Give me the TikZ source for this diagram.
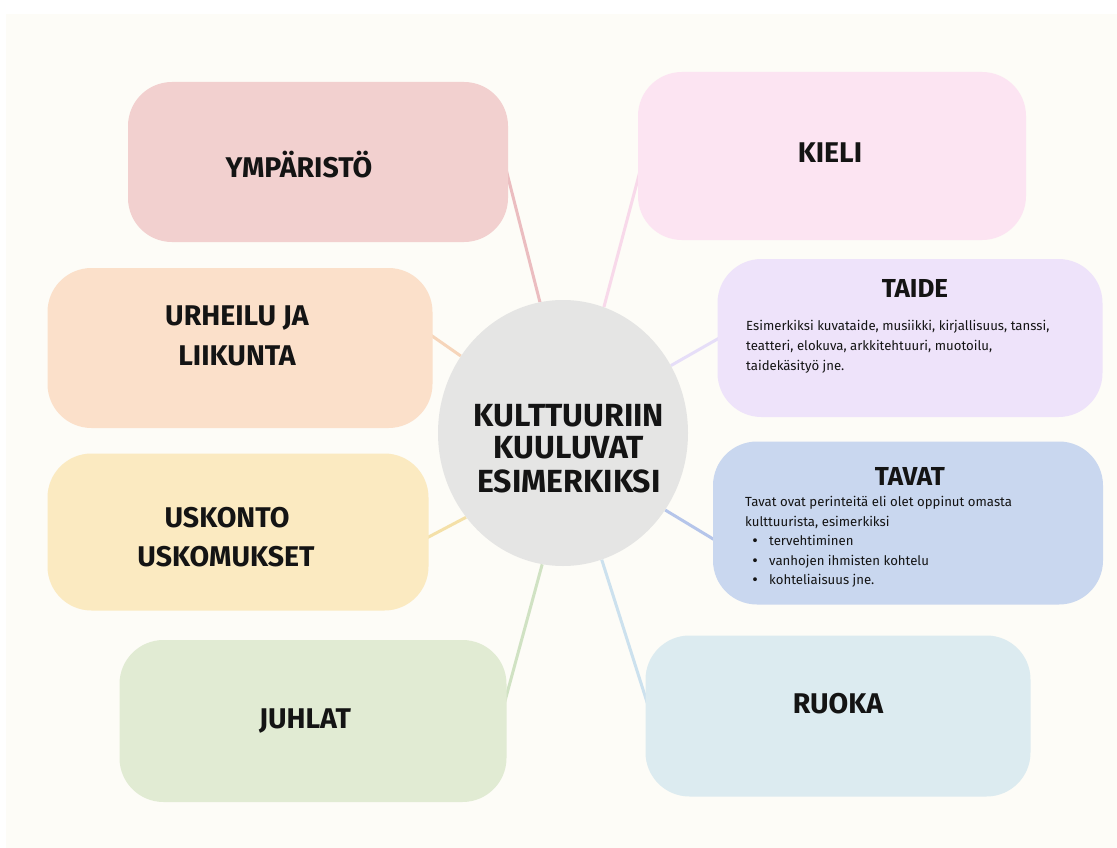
\documentclass[tikz,border=0pt]{standalone}
\usepackage{fontspec}
\setmainfont{Fira Sans}
\usetikzlibrary{shapes.geometric,backgrounds,calc}
\definecolor{cream}{HTML}{FDFCF7}
\definecolor{ink}{HTML}{141414}
\definecolor{cYmp}{HTML}{F2D0CF}
\definecolor{cKieli}{HTML}{FCE4F2}
\definecolor{cUrh}{HTML}{FBE0CA}
\definecolor{cTaide}{HTML}{EEE3FA}
\definecolor{cUsk}{HTML}{FBEAC1}
\definecolor{cTavat}{HTML}{C9D7EF}
\definecolor{cJuh}{HTML}{E1EBD3}
\definecolor{cRuo}{HTML}{DCEBF0}
\definecolor{cCirc}{HTML}{E5E5E4}
\definecolor{lYmp}{HTML}{EBBDC0}
\definecolor{lKieli}{HTML}{F8D9EA}
\definecolor{lUrh}{HTML}{F6D5BA}
\definecolor{lTaide}{HTML}{E6DEF8}
\definecolor{lUsk}{HTML}{F4E0A8}
\definecolor{lTavat}{HTML}{B5C5EA}
\definecolor{lJuh}{HTML}{D0E2C3}
\definecolor{lRuo}{HTML}{CCE1EE}
\begin{document}
\begin{tikzpicture}[x=1pt,y=-1pt,
  box/.style={rectangle, rounded corners=44pt, draw=none, inner sep=0pt},
  title/.style={font=\fontsize{28.5}{30}\selectfont\bfseries, text=ink, anchor=base, inner sep=0pt},
  subtitle/.style={font=\fontsize{26}{28}\selectfont\bfseries, text=ink, anchor=base, inner sep=0pt},
  ctext/.style={font=\fontsize{32}{34}\selectfont\bfseries, text=ink, anchor=base, inner sep=0pt},
  body/.style={font=\fontsize{13.2}{15}\selectfont, text=ink, anchor=base west, inner sep=0pt},
  dot/.style={font=\fontsize{17}{17}\selectfont, text=ink, anchor=base, inner sep=0pt},
  link/.style={line width=3pt}]
\useasboundingbox (0,0) rectangle (1117,848);

% boxes
\node[box, fill=cYmp, minimum width=380pt, minimum height=160pt] (ymp) at (318,162) {};
\node[box, fill=cKieli, minimum width=388pt, minimum height=168pt] (kieli) at (832,156) {};
\node[box, fill=cUrh, minimum width=385pt, minimum height=160pt] (urh) at (240,348) {};
\node[box, fill=cTaide, minimum width=385pt, minimum height=158pt] (taide) at (910,338) {};
\node[box, fill=cUsk, minimum width=381pt, minimum height=157pt] (usk) at (238,532) {};
\node[box, fill=cTavat, minimum width=390pt, minimum height=163pt] (tavat) at (908,523) {};
\node[box, fill=cJuh, minimum width=387pt, minimum height=162pt] (juh) at (313,721) {};
\node[box, fill=cRuo, minimum width=385pt, minimum height=161pt] (ruo) at (838,716) {};
\node[ellipse, fill=cCirc, draw=none, minimum width=250pt, minimum height=266pt, inner sep=0pt] (c) at (563,433) {};

% titles
\node[title] (tYmp) at (299,178) {YMPÄRISTÖ};
\node[title] (tKieli) at (830,163) {KIELI};
\node[title] (tUrh1) at (237,325) {URHEILU JA};
\node[title] (tUrh2) at (237,365) {LIIKUNTA};
\node[title] (tUsk1) at (227,527) {USKONTO};
\node[title] (tUsk2) at (226,566) {USKOMUKSET};
\node[title] (tJuh) at (305,728) {JUHLAT};
\node[title] (tRuo) at (838,713) {RUOKA};

% TAIDE
\node[subtitle] (tTaide) at (915,297) {TAIDE};
\node[body] (bT1) at (746,330) {Esimerkiksi kuvataide, musiikki, kirjallisuus, tanssi,};
\node[body] (bT2) at (746,350) {teatteri, elokuva, arkkitehtuuri, muotoilu,};
\node[body] (bT3) at (746,370) {taidekäsityö jne.};

% TAVAT
\node[subtitle] (tTavat) at (910,485) {TAVAT};
\node[body] (bV1) at (745,506) {Tavat ovat perinteitä eli olet oppinut omasta};
\node[body] (bV2) at (745,526) {kulttuurista, esimerkiksi};
\node[dot] (d1) at (755,546) {•};
\node[body] (bV3) at (769,545) {tervehtiminen};
\node[dot] (d2) at (755,566) {•};
\node[body] (bV4) at (769,565) {vanhojen ihmisten kohtelu};
\node[dot] (d3) at (755,585) {•};
\node[body] (bV5) at (769,584) {kohteliaisuus jne.};

% centre
\node[ctext] (c1) at (569,426) {KULTTUURIIN};
\node[ctext] (c2) at (569,458) {KUULUVAT};
\node[ctext] (c3) at (569,492) {ESIMERKIKSI};

\begin{scope}[on background layer]
  \fill[white] (0,0) rectangle (1117,848);
  \fill[cream] (6,14) rectangle (1117,848);
  \draw[link, lYmp] ($(ymp.east)+(-2,8)$) -- (c.100);
  \draw[link, lKieli] ($(kieli.west)+(2,16)$) -- (c.72);
  \draw[link, lUrh] ($(urh.east)+(-2,-13)$) -- (c.143);
  \draw[link, lTaide] ($(taide.west)+(2,0)$) -- (c.32);
  \draw[link, lUsk] ($(usk.east)+(-2,6)$) -- (c.221);
  \draw[link, lTavat] ($(tavat.west)+(2,17)$) -- (c.323);
  \draw[link, lJuh] ($(juh.east)+(-2,-19)$) -- (c.261);
  \draw[link, lRuo] ($(ruo.west)+(2,-13)$) -- (c.287);
\end{scope}
\end{tikzpicture}
\end{document}
